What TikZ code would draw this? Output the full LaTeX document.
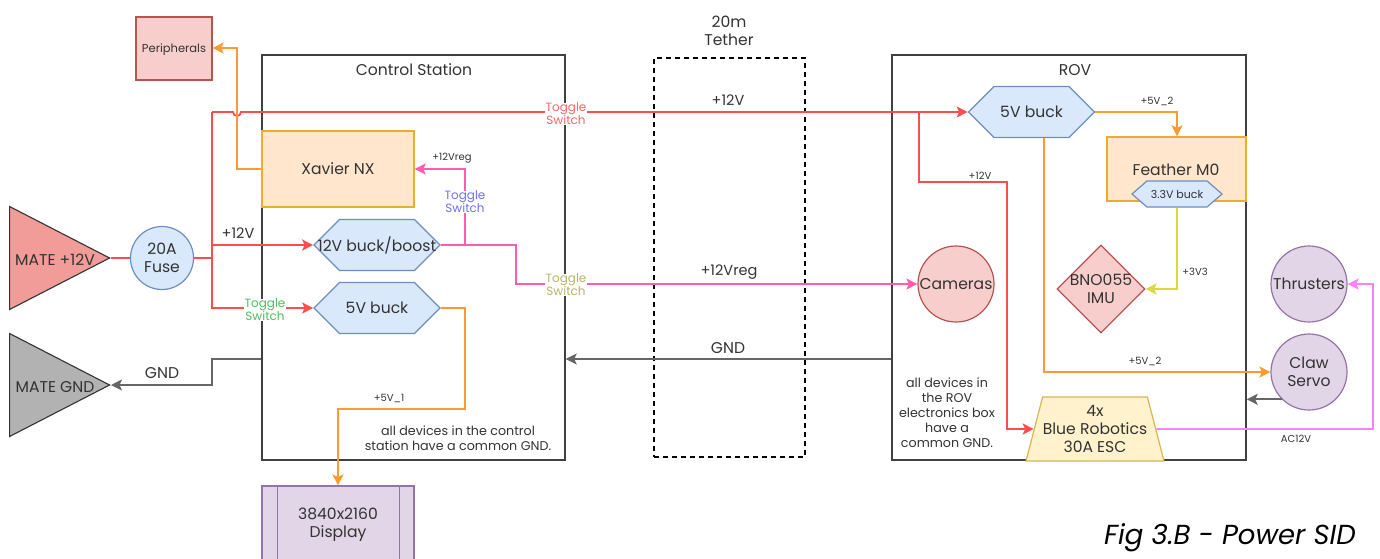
\documentclass[tikz,border=0pt]{standalone}
\usepackage{fontspec}
\setmainfont{Poppins}
\usetikzlibrary{arrows.meta,calc,shapes.geometric,shapes.symbols}
\definecolor{sidRed}{HTML}{FF4D4D}
\definecolor{sidOrange}{HTML}{FF9A33}
\definecolor{sidPink}{HTML}{FF5CB0}
\definecolor{sidMagenta}{HTML}{FF80FF}
\definecolor{sidYellow}{HTML}{D9D93A}
\definecolor{sidGrey}{HTML}{666666}
\definecolor{sidText}{HTML}{333333}
\definecolor{blueFill}{HTML}{DAE8FC}
\definecolor{blueLine}{HTML}{6C8EBF}
\definecolor{redFill}{HTML}{F8CECC}
\definecolor{redLine}{HTML}{B85450}
\definecolor{redTri}{HTML}{F19C99}
\definecolor{orangeFill}{HTML}{FFE6CC}
\definecolor{orangeLine}{HTML}{E8AE2E}
\definecolor{purpleFill}{HTML}{E1D5E7}
\definecolor{purpleLine}{HTML}{9673A6}
\definecolor{yellowFill}{HTML}{FFF2CC}
\definecolor{yellowLine}{HTML}{D6B656}
\definecolor{toggleRed}{HTML}{FF6666}
\definecolor{toggleOlive}{HTML}{B5B566}
\definecolor{toggleBlue}{HTML}{7070FF}
\definecolor{toggleGreen}{HTML}{4DBF5F}

\begin{document}
\begin{tikzpicture}[x=1pt,y=-1pt, every node/.style={font=\fontsize{15.6}{18}\selectfont, text=sidText, align=center, inner sep=0pt},
    smalltext/.style={font=\fontsize{10}{12}\selectfont},
    wiretext/.style={font=\fontsize{14.5}{16}\selectfont},
    notetext/.style={font=\fontsize{12.7}{15}\selectfont},
    toggletext/.style={font=\fontsize{12}{13}\selectfont, fill=white, inner xsep=1pt},
    frame/.style={draw=black!75, line width=1.4pt},
    orangebox/.style={rectangle, draw=orangeLine, fill=orangeFill, line width=1.4pt},
    buck/.style={signal, signal to=east and west, signal pointer angle=90, draw=blueLine, fill=blueFill, line width=1.2pt, minimum width=126pt, minimum height=51pt, inner xsep=-30pt},
    roundbox/.style={circle, line width=1.2pt, minimum size=76pt},
    mate/.style={isosceles triangle, isosceles triangle stretches, draw=black!80, line width=1.1pt, minimum width=103pt, minimum height=100pt, anchor=apex},
    wire/.style={line width=1.8pt, -{Stealth[length=11pt,width=11pt,inset=2.5pt]}},
    plain/.style={line width=1.8pt}]
  \useasboundingbox (0,0) rectangle (1380,558);
  \clip (0,0) rectangle (1380,558);

  % outer frames
  \node[frame, rectangle, minimum width=303pt, minimum height=405pt] (ctrl) at (413.5,257.5) {};
  \node[frame, rectangle, minimum width=354pt, minimum height=405pt] (rov) at (1069,257.5) {};
  \node[draw=black, line width=1.4pt, dash pattern=on 5pt off 4pt, rectangle, minimum width=151pt, minimum height=399pt] (tether) at (729.5,257.5) {};
  \node (ctrltitle) at (414,70) {Control Station};
  \node (rovtitle) at (1075,70) {ROV};
  \node (tethertitle) at (729,31) {20m\\Tether};

  % blocks
  \node[rectangle, draw=redLine, fill=redFill, line width=1.2pt, minimum width=76pt, minimum height=63pt, font=\fontsize{11.5}{13}\selectfont, text depth=0pt] (periph) at (174,48.5) {Peripherals};
  \node[orangebox, minimum width=152pt, minimum height=76pt] (xavier) at (338,169) {Xavier NX};
  \node[buck] (buckboost) at (377,245) {12V buck/boost};
  \node[buck] (buckctrl) at (377,308) {5V buck};
  \node[mate, fill=redTri] (mateplus) at (111,258) {};
  \node (matepluslabel) at (55,260) {MATE +12V};
  \node[mate, fill=black!30] (mategnd) at (111,385) {};
  \node (mategndlabel) at (55,387) {MATE GND};
  \node[circle, draw=blueLine, fill=blueFill, line width=1.2pt, minimum size=63pt] (fuse) at (162,258) {20A\\Fuse};
  \node[rectangle, draw=purpleLine, fill=purpleFill, line width=1.2pt, minimum width=152pt, minimum height=78pt] (display) at (338,525) {3840x2160\\Display};
  \draw[purpleLine, line width=1.2pt] ($(display.north west)+(16,0)$) -- ($(display.south west)+(16,0)$);
  \draw[purpleLine, line width=1.2pt] ($(display.north east)+(-15,0)$) -- ($(display.south east)+(-15,0)$);
  \node[buck] (buckrov) at (1031.5,112) {5V buck};
  \node[orangebox, minimum width=139pt, minimum height=64pt] (feather) at (1176.5,169) {};
  \node (featherlabel) at (1176,170) {Feather M0};
  \node[buck, signal pointer angle=82, minimum width=90pt, minimum height=26pt, inner xsep=-10pt, font=\fontsize{11}{13}\selectfont] (buckfeather) at (1177,194) {3.3V buck};
  \node[roundbox, draw=redLine, fill=redFill] (cameras) at (956,284) {Cameras};
  \node[diamond, draw=redLine, fill=redFill, line width=1.2pt, aspect=1, minimum size=88pt, inner sep=-10pt] (imu) at (1101,289) {BNO055\\IMU};
  \node[roundbox, draw=purpleLine, fill=purpleFill, inner sep=-4pt] (thrusters) at (1309,284) {Thrusters};
  \node[roundbox, draw=purpleLine, fill=purpleFill] (claw) at (1309,372) {Claw\\Servo};
  \node[trapezium, trapezium stretches body, trapezium left angle=69, trapezium right angle=69, draw=yellowLine, fill=yellowFill, line width=1.2pt, minimum width=138pt, minimum height=64pt, inner xsep=-10pt, inner ysep=-2pt] (esc) at (1095,429) {4x\\Blue Robotics\\30A ESC};

  % junctions of the wires
  \coordinate (jfuse) at (212,258);
  \coordinate (jtop) at (212,112);
  \coordinate (jrov) at (919,112);
  \coordinate (jesc) at (1007,182);
  \coordinate (jreg) at (465,245);
  \coordinate (jperiph) at (237,48);
  \coordinate (jservo) at (1044,372);
  \coordinate (jdisp) at (465,409);
  \coordinate (jright) at (1373,429);

  % +12V
  \draw[plain, sidRed] (mateplus.apex) -- (fuse.west);
  \draw[plain, sidRed] (fuse.east) -- (jfuse);
  \draw[plain, sidRed] (jfuse) -- (jtop);
  \draw[wire, sidRed] (jtop) -- (233,112) arc (180:0:4) -- (buckrov.west);
  \draw[wire, sidRed] (jtop |- buckboost.west) -- (buckboost.west);
  \draw[wire, sidRed] (jfuse) |- (buckctrl.west);
  \draw[wire, sidRed] (jrov) |- (jesc) |- (esc.west);
  % +12Vreg
  \draw[wire, sidPink] (buckboost.east) -- (516,245) |- (cameras.west);
  \draw[wire, sidPink] (jreg) |- (xavier.east);
  % 5V
  \draw[wire, sidOrange] (xavier.west) -| (jperiph) -- (periph.east |- jperiph);
  \draw[wire, sidOrange] (buckctrl.east) -| (jdisp) -| (display.north);
  \draw[wire, sidOrange] (buckrov.east) -| (buckfeather.north |- feather.north);
  \draw[wire, sidOrange] (buckrov.south -| jservo) |- (claw.west);
  % 3V3 and AC
  \draw[wire, sidYellow] (buckfeather.south) |- (imu.east);
  \draw[wire, sidMagenta] (esc.east) -- (jright) |- (thrusters.east);
  % GND
  \draw[wire, sidGrey] (rov.west |- 0,359) -- (ctrl.east |- 0,359);
  \draw[wire, sidGrey] (ctrl.west |- 0,359) -- (212,359) |- (mategnd.apex);
  \draw[wire, sidGrey] (claw.south west) -- ++(-35,0) coordinate (jclaw);

  % labels on the wires
  \node[toggletext, text=toggleRed] (togglemain) at (566,114) {Toggle\\Switch};
  \node[toggletext, text=toggleOlive] (togglereg) at (566,285) {Toggle\\Switch};
  \node[toggletext, text=toggleBlue] (togglexavier) at (465,202) {Toggle\\Switch};
  \node[toggletext, text=toggleGreen] (togglebuck) at (265,310) {Toggle\\Switch};
  \node[wiretext] (labmain) at (728,100) {+12V};
  \node[wiretext] (labfuse) at (238,233) {+12V};
  \node[wiretext] (labreg) at (729,272) {+12Vreg};
  \node (labgnd) at (728,348) {GND};
  \node (labgndmate) at (162,373) {GND};
  \node[smalltext] (labxavier) at (452,158) {+12Vreg};
  \node[smalltext] (labdisp) at (389,398) {+5V\_1};
  \node[smalltext] (labfeather) at (1157,101) {+5V\_2};
  \node[smalltext] (labservo) at (1145,361) {+5V\_2};
  \node[smalltext] (labesc) at (980,176) {+12V};
  \node[smalltext] (labimu) at (1195,272) {+3V3};
  \node[smalltext] (labac) at (1296,439) {AC12V};
  \node[notetext] (notectrl) at (458,438.5) {all devices in the control\\station have a common GND.};
  \node[notetext] (noterov) at (947,413) {all devices in\\the ROV\\electronics box\\have a\\common GND.};
  \node[font=\fontsize{27.5}{30}\selectfont\itshape, text=black] (caption) at (1230,538) {Fig 3.B - Power SID};
\end{tikzpicture}
\end{document}
